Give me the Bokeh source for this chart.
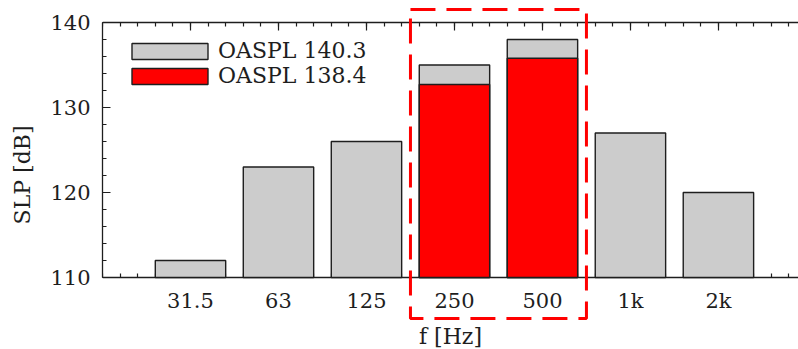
from bokeh.plotting import figure
from bokeh.models import (Range1d, LinearAxis, FixedTicker, SingleIntervalTicker,
                          Legend, LegendItem, PolyAnnotation, ColumnDataSource)
from bokeh.embed import file_html
from bokeh.resources import INLINE

# ---- data -------------------------------------------------------------
categories = ["31.5", "63", "125", "250", "500", "1k", "2k"]
slp_all = [112.0, 123.0, 126.0, 135.0, 138.0, 127.0, 120.0]
red_categories = ["250", "500"]
slp_red = [132.7, 135.8]
label_all = "OASPL 140.3"
label_red = "OASPL 138.4"
y_min, y_max = 110, 140
x_label = "f [Hz]"
y_label = "SLP [dB]"

# ---- positions derived from categories ---------------------------------
x_all = [i + 1 for i in range(len(categories))]
x_red = [categories.index(c) + 1 for c in red_categories]

FONT = "DejaVu Serif"
INK = "#1e1e1e"
GREY = "#cccccc"
RED = "#ff0000"

# frame spans the full canvas height so the dashed highlight can leave the axes box
PX_PER_DB = 8.5
TOP_PAD, BOTTOM_PAD = 22, 72
y_lo = y_min - BOTTOM_PAD / PX_PER_DB
y_hi = y_max + TOP_PAD / PX_PER_DB

p = figure(width=798, height=349, output_backend="svg", toolbar_location=None,
           x_range=Range1d(0, 7.91), y_range=Range1d(y_lo, y_hi),
           min_border_left=102, min_border_top=0, min_border_bottom=0,
           min_border_right=0)
p.outline_line_color = None
p.xgrid.grid_line_color = None
p.ygrid.grid_line_color = None
p.background_fill_color = "white"
p.border_fill_color = "white"

minor_x = [round(0.2 * k, 2) for k in range(0, 41)]
xticker = FixedTicker(ticks=x_all, minor_ticks=minor_x)

src_all = ColumnDataSource(dict(x=x_all, top=slp_all))
src_red = ColumnDataSource(dict(x=x_red, top=slp_red))

r_all = p.vbar(x="x", top="top", bottom=y_min, width=0.8, source=src_all,
               fill_color=GREY, line_color=INK, line_width=1.4, level="overlay")
r_red = p.vbar(x="x", top="top", bottom=y_min, width=0.8, source=src_red,
               fill_color=RED, line_color=INK, line_width=1.4, level="overlay")


def style_axis(ax):
    ax.axis_line_color = INK
    ax.axis_line_width = 1.3
    ax.major_tick_line_color = INK
    ax.minor_tick_line_color = INK
    ax.major_tick_line_width = 1.2
    ax.minor_tick_line_width = 1.2
    ax.major_tick_in = 8
    ax.major_tick_out = 0
    ax.minor_tick_in = 4
    ax.minor_tick_out = 0
    ax.major_label_text_font = FONT
    ax.major_label_text_font_size = "21px"
    ax.major_label_text_color = INK
    ax.axis_label_text_font = FONT
    ax.axis_label_text_font_size = "22px"
    ax.axis_label_text_font_style = "normal"
    ax.axis_label_text_color = INK


xa = p.xaxis[0]
xa.ticker = xticker
xa.fixed_location = y_min
xa.major_label_overrides = {x: c for x, c in zip(x_all, categories)}
xa.axis_label = x_label
style_axis(xa)
xa.major_label_standoff = 11
xa.axis_label_standoff = 8

ya = p.yaxis[0]
ya.ticker = SingleIntervalTicker(interval=10, num_minor_ticks=5)
ya.bounds = (y_min, y_max)
ya.axis_label = y_label
style_axis(ya)
ya.major_label_standoff = 12
ya.axis_label_standoff = 12

top_axis = LinearAxis(ticker=xticker, fixed_location=y_max)
style_axis(top_axis)
top_axis.major_label_text_color = None
top_axis.major_label_text_alpha = 0
top_axis.major_label_standoff = 0
p.add_layout(top_axis, "above")

legend = Legend(items=[LegendItem(label=label_all, renderers=[r_all]),
                       LegendItem(label=label_red, renderers=[r_red])],
                location=(20, 261), orientation="vertical",
                glyph_width=95, glyph_height=20, label_standoff=1,
                label_height=20, spacing=-4, padding=0, margin=0,
                label_text_font=FONT, label_text_font_size="22px",
                label_text_color=INK, border_line_color=None,
                background_fill_alpha=0)
p.add_layout(legend, "center")

# dashed highlight around the 250 / 500 Hz bands
i0 = categories.index(red_categories[0]) + 1
i1 = categories.index(red_categories[-1]) + 1
box_top = y_max + 13 / PX_PER_DB
box_bottom = y_min - 41 / PX_PER_DB
box = PolyAnnotation(xs=[i0 - 0.5, i1 + 0.5, i1 + 0.5, i0 - 0.5],
                     ys=[box_top, box_top, box_bottom, box_bottom],
                     fill_color=None, fill_alpha=0, line_color=RED, line_alpha=1.0,
                     line_width=3, line_dash="25 11", level="overlay")
p.add_layout(box)

open("out.html", "w").write(file_html(p, INLINE))
